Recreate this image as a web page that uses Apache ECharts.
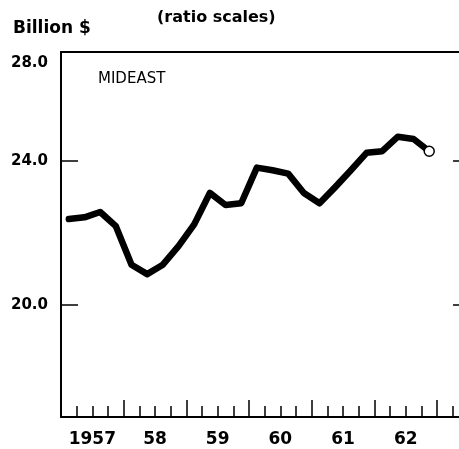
<!DOCTYPE html>
<html>
<head>
<meta charset="utf-8">
<script src="https://cdn.jsdelivr.net/npm/echarts@6/dist/echarts.min.js"></script>
<style>
  html, body { margin: 0; padding: 0; background: #fff; }
  #chart { width: 459px; height: 449px; }
</style>
</head>
<body>
<div id="chart"></div>
<script>
// quarterly, billion $ (ratio scale)
const periods = [
  '1957-1', '1957-2', '1957-3', '1957-4',
  '1958-1', '1958-2', '1958-3', '1958-4',
  '1959-1', '1959-2', '1959-3', '1959-4',
  '1960-1', '1960-2', '1960-3', '1960-4',
  '1961-1', '1961-2', '1961-3', '1961-4',
  '1962-1', '1962-2', '1962-3', '1962-4'
];
const values = [
  22.3, 22.35, 22.5, 22.1,
  21.05, 20.8, 21.05, 21.55,
  22.15, 23.05, 22.7, 22.75,
  23.8, 23.72, 23.62, 23.05,
  22.75, 23.22, 23.72, 24.25,
  24.3, 24.75, 24.68, 24.3
];
const yearTicks = [1957, 1958, 1959, 1960, 1961, 1962, 1963];
const quarterTicks = [
  1957.25, 1957.5, 1957.75, 1958.25, 1958.5, 1958.75,
  1959.25, 1959.5, 1959.75, 1960.25, 1960.5, 1960.75,
  1961.25, 1961.5, 1961.75, 1962.25, 1962.5, 1962.75, 1963.25
];
const yearLabels = ['1957', '58', '59', '60', '61', '62'];
const yTicks = [20, 24];
const yLabelValues = [20, 24, 28];
const yLabels = ['20.0', '24.0', '28.0'];

const xMin = 1957, xMax = 1963.35;
const yMin = 17.36, yMax = 27.55;
const FONT = 'DejaVu Sans';

// period -> middle of the quarter in decimal years
function toYear(p) {
  const [y, q] = p.split('-').map(Number);
  return y + (q - 0.5) / 4;
}
const points = periods.map((p, i) => [toYear(p), values[i]]);
const last = points[points.length - 1];

const chart = echarts.init(document.getElementById('chart'));

const baseX = { type: 'value', min: xMin, max: xMax, splitLine: { show: false } };
const baseY = { type: 'log', min: yMin, max: yMax, splitLine: { show: false } };

const option = {
  animation: false,
  backgroundColor: '#fff',
  grid: { left: 61, right: 0, top: 52, bottom: 32, containLabel: false, outerBoundsMode: 'none' },
  graphic: [
    { type: 'text', left: 13, top: 20, style: { text: 'Billion $', font: 'bold 17px "DejaVu Sans"', fill: '#000' } },
    { type: 'text', left: 157, top: 10, style: { text: '(ratio scales)', font: 'bold 16px "DejaVu Sans"', fill: '#000' } },
    { type: 'text', left: 98, top: 72, style: { text: 'MIDEAST', font: '15px "DejaVu Sans"', fill: '#000' } }
  ],
  xAxis: [
    Object.assign({}, baseX, {
      position: 'bottom',
      axisLine: { show: true, lineStyle: { color: '#000', width: 2 } },
      axisTick: { show: true, inside: true, length: 11, customValues: quarterTicks, lineStyle: { color: '#000', width: 1.5 } },
      axisLabel: { show: false }
    }),
    Object.assign({}, baseX, {
      position: 'bottom',
      axisLine: { show: false },
      axisTick: { show: true, inside: true, length: 17, customValues: yearTicks, lineStyle: { color: '#000', width: 1.5 } },
      axisLabel: {
        show: true,
        customValues: yearLabels.map((t, i) => yearTicks[i] + 0.5),
        formatter: (v) => yearLabels[Math.floor(v) - 1957],
        margin: 14,
        color: '#000',
        fontFamily: FONT,
        fontWeight: 'bold',
        fontSize: 17
      }
    }),
    Object.assign({}, baseX, {
      position: 'top',
      axisLine: { show: true, lineStyle: { color: '#000', width: 2 } },
      axisTick: { show: false },
      axisLabel: { show: false }
    })
  ],
  yAxis: [
    Object.assign({}, baseY, {
      position: 'left',
      axisLine: { show: true, lineStyle: { color: '#000', width: 2 } },
      axisTick: { show: true, inside: true, length: 17, customValues: yTicks, lineStyle: { color: '#000', width: 1.5 } },
      axisLabel: {
        show: true,
        customValues: yLabelValues.map(v => Math.min(v, yMax)),
        formatter: (v) => {
          const i = yLabelValues.findIndex(t => Math.abs(Math.min(t, yMax) - v) < 0.01);
          const s = yLabels[i];
          return yLabelValues[i] > yMax ? '{top|' + s + '}' : s;
        },
        rich: { top: { padding: [22, 0, 0, 0], fontFamily: FONT, fontWeight: 'bold', fontSize: 15, color: '#000' } },
        margin: 13,
        color: '#000',
        fontFamily: FONT,
        fontWeight: 'bold',
        fontSize: 15
      }
    }),
    Object.assign({}, baseY, {
      position: 'right',
      axisLine: { show: false },
      axisTick: { show: true, inside: true, length: 6, customValues: yTicks, lineStyle: { color: '#000', width: 1.5 } },
      axisLabel: { show: false }
    })
  ],
  series: [
    {
      type: 'line',
      xAxisIndex: 0,
      yAxisIndex: 0,
      data: points,
      symbol: 'none',
      lineStyle: { color: '#000', width: 6.5, cap: 'round', join: 'round' },
      z: 2
    },
    {
      type: 'scatter',
      xAxisIndex: 0,
      yAxisIndex: 0,
      data: [last],
      symbol: 'circle',
      symbolSize: 10,
      itemStyle: { color: '#fff', borderColor: '#000', borderWidth: 1.5, opacity: 1 },
      z: 3
    }
  ]
};

chart.setOption(option);
</script>
</body>
</html>
